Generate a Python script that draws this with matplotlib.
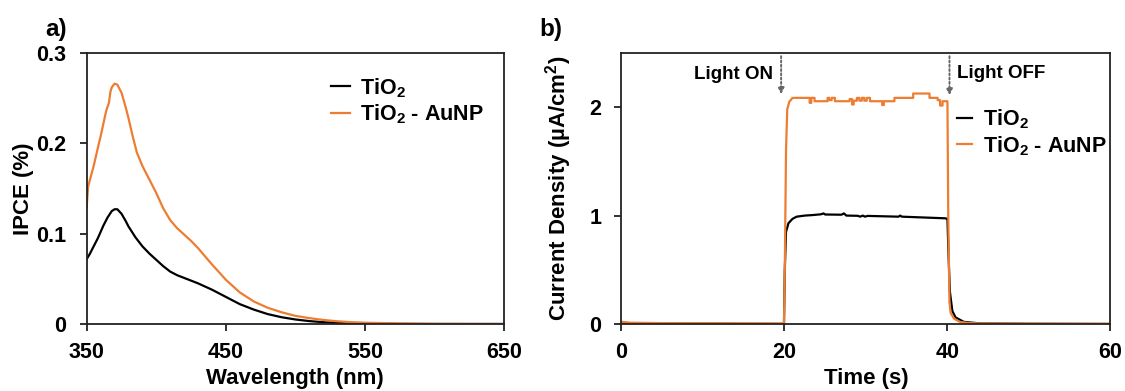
import matplotlib
matplotlib.use("Agg")
import matplotlib.pyplot as plt

plt.rcParams['font.family'] = ['Liberation Sans', 'DejaVu Sans']
plt.rcParams['font.weight'] = 'bold'
plt.rcParams['mathtext.fontset'] = 'custom'
plt.rcParams['mathtext.bf'] = 'Liberation Sans:bold'
plt.rcParams['mathtext.rm'] = 'Liberation Sans:bold'
plt.rcParams['mathtext.default'] = 'bf'

# ---- (a) IPCE spectra ----
wl_tio2 = [350, 352, 355, 358, 360, 362, 365, 368, 370, 372, 375, 378, 380, 385,
           390, 395, 400, 405, 410, 415, 420, 425, 430, 440, 450, 460, 470, 480,
           490, 500, 510, 520, 530, 540, 550, 575, 600, 625, 650]
ipce_tio2 = [0.072, 0.077, 0.086, 0.095, 0.102, 0.109, 0.118, 0.125, 0.127, 0.127,
             0.122, 0.114, 0.108, 0.096, 0.086, 0.078, 0.071, 0.064, 0.058, 0.054,
             0.051, 0.048, 0.045, 0.038, 0.030, 0.022, 0.016, 0.011, 0.0075, 0.005,
             0.0032, 0.002, 0.0012, 0.0007, 0.0004, 0.0001, 0.0, 0.0, 0.0]

wl_aunp = [350, 351, 352, 355, 358, 360, 362, 364, 366, 367, 368, 370, 372, 375,
           378, 380, 383, 386, 390, 395, 400, 405, 410, 415, 420, 425, 430, 435,
           440, 450, 460, 470, 480, 490, 500, 510, 520, 530, 540, 550, 575, 600,
           625, 650]
ipce_aunp = [0.130, 0.152, 0.158, 0.175, 0.195, 0.208, 0.222, 0.236, 0.245, 0.257,
             0.262, 0.266, 0.265, 0.256, 0.240, 0.228, 0.208, 0.190, 0.175, 0.160,
             0.145, 0.128, 0.115, 0.106, 0.099, 0.092, 0.084, 0.075, 0.066, 0.049,
             0.035, 0.025, 0.018, 0.013, 0.009, 0.0065, 0.0045, 0.003, 0.002,
             0.0014, 0.0006, 0.0002, 0.0001, 0.0]

# ---- (b) chopped-light photocurrent ----
t_tio2 = [0, 1, 5, 19.95, 20.05, 20.2, 20.5, 21.0, 21.5, 22.5, 23.5, 24.5, 24.8,
          25.0, 27.0, 27.3, 27.6, 29.0, 29.3, 29.6, 29.9, 30.2, 34.0, 34.2, 34.4,
          39.7, 40.0, 40.15, 40.3, 40.6, 41.0, 42.0, 44.0, 50.0, 60.0]
j_tio2 = [0.012, 0.008, 0.004, 0.0, 0.5, 0.85, 0.93, 0.97, 0.99, 1.0, 1.005, 1.012,
          1.02, 1.01, 1.008, 1.02, 1.0, 0.998, 0.99, 1.0, 0.99, 0.997, 0.99, 1.0,
          0.99, 0.975, 0.97, 0.6, 0.3, 0.12, 0.06, 0.02, 0.005, 0.002, 0.0]

t_aunp = [0, 1, 5, 19.95, 20.05, 20.2, 20.35, 20.6, 21.0, 23.1, 23.1, 23.3, 23.3,
          23.7, 23.7, 25.3, 25.3, 25.5, 25.5, 25.8, 25.8, 26.2, 26.2, 28.0, 28.0,
          28.3, 28.3, 28.5, 28.5, 28.9, 28.9, 29.2, 29.2, 29.5, 29.5, 29.8, 29.8,
          30.1, 30.1, 30.5, 30.5, 32.0, 32.0, 32.2, 32.2, 33.5, 33.5, 35.8, 35.8,
          37.8, 37.8, 38.8, 38.8, 39.1, 39.1, 39.4, 39.4, 40.0, 40.1, 40.25, 40.4,
          40.8, 41.5, 42.5, 44.0, 50.0, 60.0]
j_aunp = [0.02, 0.012, 0.008, 0.005, 0.5, 1.6, 1.98, 2.05, 2.086, 2.086, 2.04, 2.04,
          2.086, 2.086, 2.055, 2.055, 2.086, 2.086, 2.065, 2.065, 2.086, 2.086,
          2.055, 2.055, 2.075, 2.075, 2.025, 2.025, 2.06, 2.06, 2.086, 2.086, 2.06,
          2.06, 2.086, 2.086, 2.06, 2.06, 2.086, 2.086, 2.055, 2.055, 2.02, 2.02,
          2.055, 2.055, 2.086, 2.086, 2.126, 2.126, 2.086, 2.086, 2.065, 2.065,
          2.015, 2.015, 2.055, 2.055, 1.0, 0.2, 0.1, 0.05, 0.02, 0.01, 0.005,
          0.003, 0.002]

series_labels = [r'TiO$_2$', r'TiO$_2$ - AuNP']
colors = ['#000000', '#ED7D31']

fig = plt.figure(figsize=(11.25, 3.91), dpi=100)
ax_a = fig.add_axes([0.0771, 0.1714, 0.3709, 0.6931])
ax_b = fig.add_axes([0.5523, 0.1714, 0.4348, 0.6931])

for ax in (ax_a, ax_b):
    for sp in ax.spines.values():
        sp.set_color('#222222')
        sp.set_linewidth(1.3)
    ax.tick_params(axis='both', direction='out', length=5, width=1.3,
                   color='#222222', labelsize=15.5)
    ax.tick_params(axis='y', pad=9.5)
    ax.tick_params(axis='x', pad=8.3)
    ax.tick_params(top=False, right=False)

# panel a
ax_a.plot(wl_tio2, ipce_tio2, color=colors[0], lw=1.6, label=series_labels[0])
ax_a.plot(wl_aunp, ipce_aunp, color=colors[1], lw=1.6, label=series_labels[1])
ax_a.set_xlim(350, 650)
ax_a.set_ylim(0, 0.3)
ax_a.set_xticks([350, 450, 550, 650])
ax_a.set_yticks([0, 0.1, 0.2, 0.3])
ax_a.set_yticklabels(['0', '0.1', '0.2', '0.3'])
ax_a.set_xlabel('Wavelength (nm)', fontsize=16, fontweight='bold')
ax_a.set_ylabel('IPCE (%)', fontsize=16, fontweight='bold')
ax_a.xaxis.set_label_coords(0.5, -0.163)
ax_a.yaxis.set_label_coords(-0.127, 0.5)
ax_a.legend(loc='upper left', bbox_to_anchor=(0.585, 0.915), frameon=False,
            fontsize=15.5, handlelength=0.9, handletextpad=0.45,
            labelspacing=0.15, borderpad=0, borderaxespad=0)
ax_a.text(-0.1, 1.085, 'a)', transform=ax_a.transAxes, fontsize=17.5,
          fontweight='bold', ha='left', va='center')

# panel b
ax_b.plot(t_tio2, j_tio2, color=colors[0], lw=1.6, label=series_labels[0])
ax_b.plot(t_aunp, j_aunp, color=colors[1], lw=1.6, label=series_labels[1])
ax_b.set_xlim(0, 60)
ax_b.set_ylim(0, 2.5)
ax_b.set_xticks([0, 20, 40, 60])
ax_b.set_yticks([0, 1, 2])
ax_b.set_xlabel('Time (s)', fontsize=16, fontweight='bold')
ax_b.set_ylabel(r'Current Density (µA/cm$^2$)', fontsize=16, fontweight='bold')
ax_b.xaxis.set_label_coords(0.5, -0.163)
ax_b.yaxis.set_label_coords(-0.097, 0.5)
ax_b.legend(loc='upper left', bbox_to_anchor=(0.686, 0.80), frameon=False,
            fontsize=15.5, handlelength=0.7, handletextpad=0.5,
            labelspacing=0.15, borderpad=0, borderaxespad=0)
ax_b.text(-0.168, 1.085, 'b)', transform=ax_b.transAxes, fontsize=17.5,
          fontweight='bold', ha='left', va='center')

arrow_kw = dict(arrowstyle='-|>', color='#666666', lw=1.4, linestyle=(0, (1, 1.2)),
                mutation_scale=9, shrinkA=0, shrinkB=0)
ax_b.annotate('', xy=(19.6, 2.12), xytext=(19.6, 2.47), arrowprops=arrow_kw)
ax_b.annotate('', xy=(40.25, 2.11), xytext=(40.25, 2.47), arrowprops=arrow_kw)
ax_b.text(18.6, 2.30, 'Light ON', fontsize=13.5, fontweight='bold',
          ha='right', va='center')
ax_b.text(41.2, 2.31, 'Light OFF', fontsize=13.5, fontweight='bold',
          ha='left', va='center')

fig.savefig('out.png', dpi=100)
